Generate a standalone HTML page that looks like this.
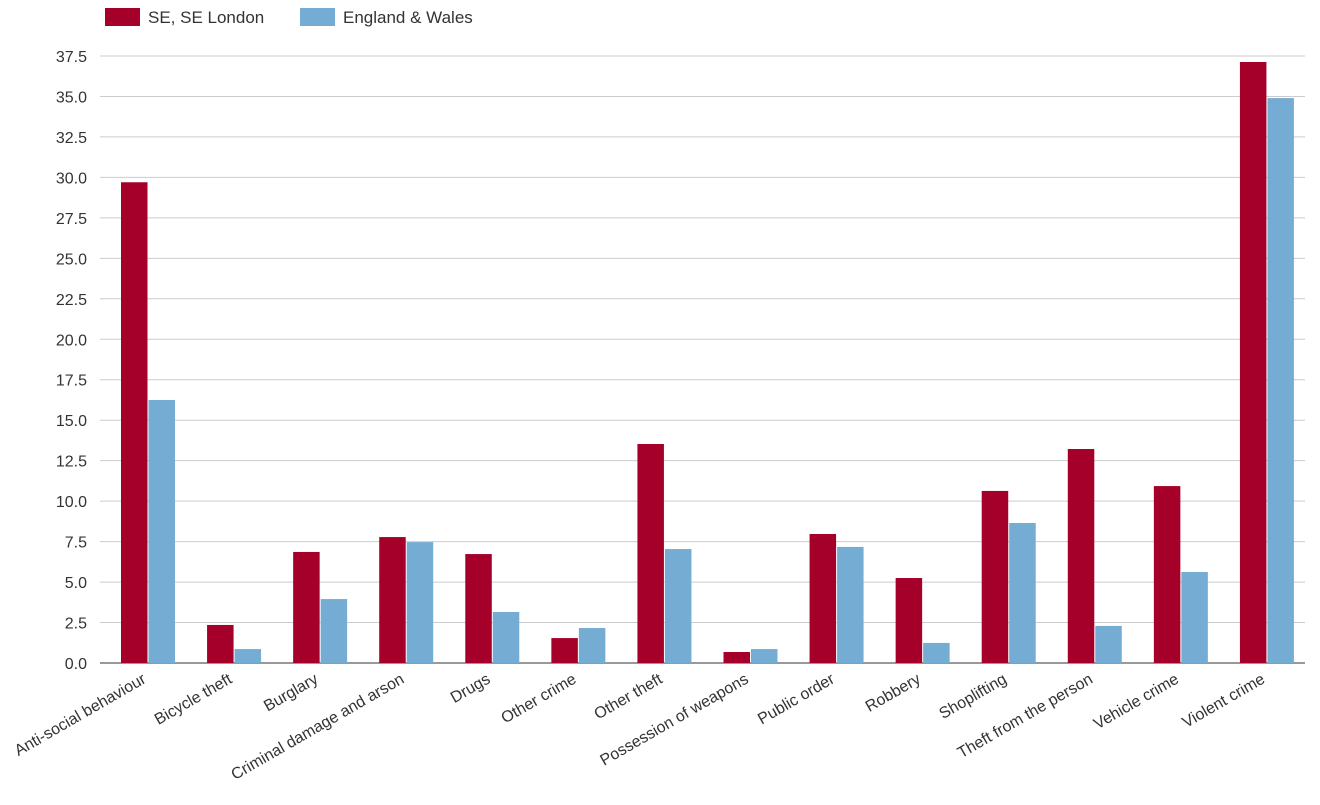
<!DOCTYPE html>
<html><head><meta charset="utf-8"><style>
body{margin:0;background:#fff;font-family:"Liberation Sans",Arial,sans-serif;}
svg text{font-family:"Liberation Sans",Arial,sans-serif;fill:#333;}
</style></head><body>
<svg id="chart" width="1320" height="800" xmlns="http://www.w3.org/2000/svg">
<g>
<rect x="105" y="8" width="35" height="18" fill="#a50029"/>
<text x="148" y="23" font-size="17">SE, SE London</text>
<rect x="300" y="8" width="35" height="18" fill="#75acd3"/>
<text x="343" y="23" font-size="17">England &amp; Wales</text>
</g>
<g id="grid"></g><g id="bars"></g><g id="labels"></g>
</svg>
<script>
const categories=["Anti-social behaviour","Bicycle theft","Burglary","Criminal damage and arson","Drugs","Other crime","Other theft","Possession of weapons","Public order","Robbery","Shoplifting","Theft from the person","Vehicle crime","Violent crime"];
const seLondon=[29.7,2.35,6.86,7.78,6.73,1.54,13.53,0.68,7.97,5.25,10.63,13.22,10.93,37.13];
const englandWales=[16.25,0.86,3.95,7.47,3.15,2.16,7.04,0.86,7.17,1.24,8.65,2.29,5.62,34.9];
const ticks=[0,2.5,5,7.5,10,12.5,15,17.5,20,22.5,25,27.5,30,32.5,35,37.5];
const NS="http://www.w3.org/2000/svg";
const x0=100,x1=1305,yBase=663,yTop=56,maxV=37.5;
const band=(x1-x0)/categories.length;
const y=v=>yBase-v*(yBase-yTop)/maxV;
const bx=i=>x0+i*band;
const grid=document.getElementById('grid'),bars=document.getElementById('bars'),labels=document.getElementById('labels');
function mk(tag,a,p){const e=document.createElementNS(NS,tag);for(const k in a)e.setAttribute(k,a[k]);p.appendChild(e);return e;}
ticks.forEach(t=>{
 const l=mk('line',{x1:x0,x2:x1,y1:y(t),y2:y(t),stroke:t===0?'#333':'#ccc','stroke-width':1},grid);
 
 
 const tx=mk('text',{x:87,y:y(t)+6,'text-anchor':'end','font-size':16},grid);
 
 
 tx.textContent=t.toFixed(1);
});
categories.forEach((c,i)=>{
 const bw=26.5;
 const a=mk('rect',{x:bx(i)+21,y:y(seLondon[i]),width:bw,height:yBase-y(seLondon[i]),fill:'#a50029'},bars);
 
 
 const b=mk('rect',{x:bx(i)+21+bw+1,y:y(englandWales[i]),width:bw,height:yBase-y(englandWales[i]),fill:'#75acd3'},bars);
 
 
 const cx=bx(i)+band/2+4;
 const t=mk('text',{x:cx,y:682,'text-anchor':'end','font-size':16,transform:`rotate(-30 ${cx} 682)`},labels);
 
 
 t.textContent=c;
});
</script>
</body></html>
